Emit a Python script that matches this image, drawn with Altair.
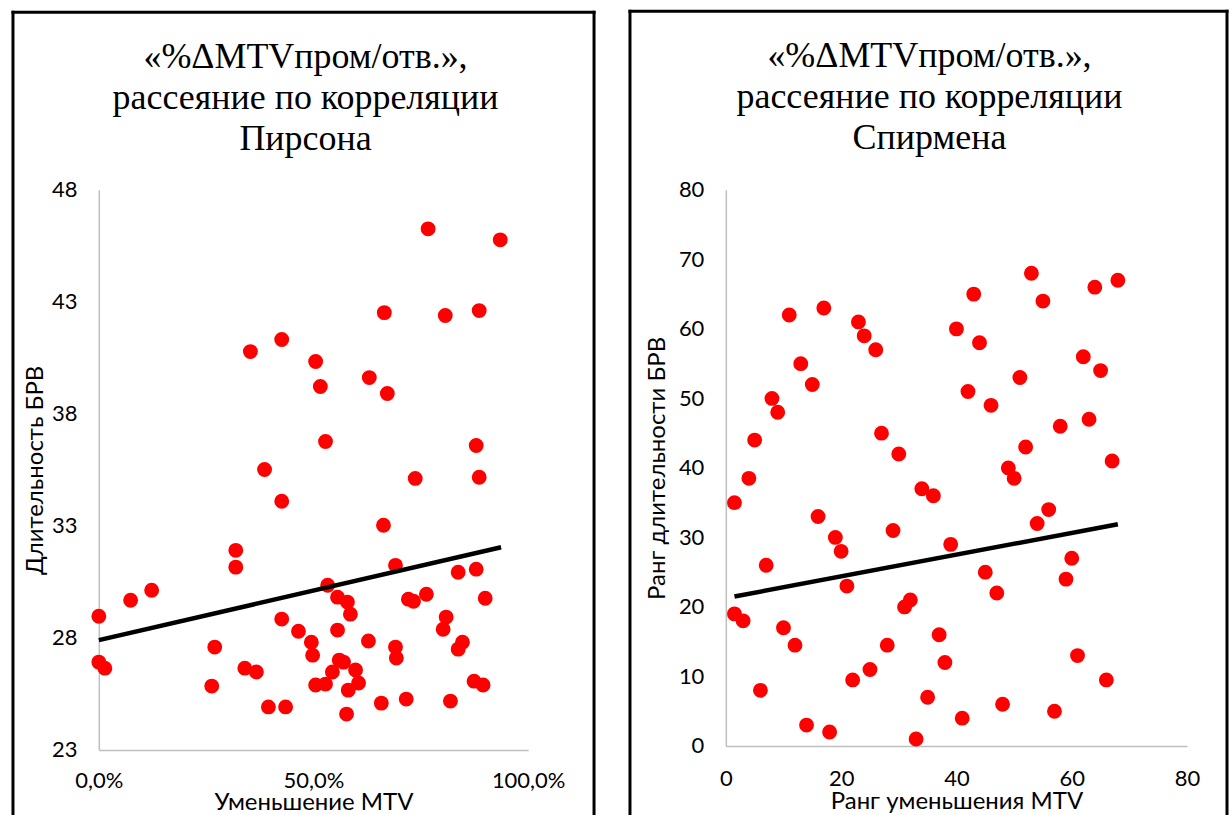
import altair as alt
import pandas as pd

# ---------------- data ----------------
pearson_x = [0.000, 0.000, 0.014, 0.074, 0.123, 0.263, 0.270, 0.319, 0.319, 0.340,
             0.367, 0.353, 0.386, 0.395, 0.435, 0.426, 0.426, 0.426, 0.465, 0.495,
             0.498, 0.505, 0.505, 0.516, 0.528, 0.528, 0.533, 0.544, 0.556, 0.556,
             0.560, 0.570, 0.579, 0.581, 0.586, 0.577, 0.598, 0.605, 0.628, 0.630,
             0.658, 0.663, 0.665, 0.672, 0.691, 0.693, 0.691, 0.716, 0.721, 0.733,
             0.737, 0.763, 0.767, 0.802, 0.809, 0.807, 0.819, 0.837, 0.837, 0.847,
             0.874, 0.879, 0.879, 0.886, 0.886, 0.895, 0.900, 0.935]
pearson_y = [28.97, 26.92, 26.65, 29.68, 30.13, 25.85, 27.59, 31.91, 31.16, 26.65,
             26.48, 40.78, 35.52, 24.92, 24.92, 34.10, 41.32, 28.84, 28.30, 27.81,
             27.23, 25.90, 40.34, 39.22, 25.94, 36.77, 30.35, 26.48, 28.35, 29.82,
             27.01, 26.92, 29.60, 25.67, 29.06, 24.60, 26.57, 25.99, 27.86, 39.62,
             25.09, 33.03, 42.52, 38.91, 27.59, 27.10, 31.24, 25.27, 29.73, 29.64,
             35.12, 29.95, 46.26, 28.39, 28.93, 42.39, 25.18, 30.93, 27.50, 27.81,
             26.07, 31.07, 36.59, 35.17, 42.61, 25.90, 29.77, 45.77]
pearson_trend_x = [0.0, 0.937]
pearson_trend_y = [27.90, 32.05]

spearman_x = [1.5, 4, 5, 8, 9, 11, 13, 15, 17, 23,
              24, 26, 27, 30, 34, 36, 53, 43, 55, 64,
              68, 40, 44, 62, 65, 51, 42, 46, 58, 63,
              52, 67, 49, 50, 56, 16, 19, 20, 29, 7,
              21, 1.5, 3, 10, 12, 28, 31, 32, 37, 38,
              25, 22, 6, 35, 14, 18, 33, 54, 39, 60,
              59, 45, 47, 61, 66, 48, 41, 57]
spearman_y = [35, 38.5, 44, 50, 48, 62, 55, 52, 63, 61,
              59, 57, 45, 42, 37, 36, 68, 65, 64, 66,
              67, 60, 58, 56, 54, 53, 51, 49, 46, 47,
              43, 41, 40, 38.5, 34, 33, 30, 28, 31, 26,
              23, 19, 18, 17, 14.5, 14.5, 20, 21, 16, 12,
              11, 9.5, 8, 7, 3, 2, 1, 32, 29, 27,
              24, 25, 22, 13, 9.5, 6, 4, 5]
spearman_trend_x = [1.5, 68]
spearman_trend_y = [21.5, 31.9]

title_left = ["«%ΔMTVпром/отв.»,", "рассеяние по корреляции", "Пирсона"]
title_right = ["«%ΔMTVпром/отв.»,", "рассеяние по корреляции", "Спирмена"]

left_x_ticks = [0, 0.5, 1]
left_y_ticks = [23, 28, 33, 38, 43, 48]
right_x_ticks = [0, 20, 40, 60, 80]
right_y_ticks = [0, 10, 20, 30, 40, 50, 60, 70, 80]

# ---------------- helpers ----------------
RED = "#ff0000"
SANS = "Lato"


def border(x0, x1, y0, y1):
    d = alt.Data(values=[{"k": 1}])
    base = alt.Chart(d).mark_rule(color="black", strokeWidth=3, strokeCap="square")
    l = base.encode(x=alt.value(x0), y=alt.value(y0), y2=alt.value(y1))
    r = base.encode(x=alt.value(x1), y=alt.value(y0), y2=alt.value(y1))
    t = base.encode(x=alt.value(x0), x2=alt.value(x1), y=alt.value(y0))
    return [l, r, t]


def panel(xs, ys, tx, ty, xdom, ydom, xticks, yticks, xtitle, ytitle,
          xlabel_expr, w, h, title, dx, toff, bx0, bx1, by0, by1, ytitle_x,
          xtitle_y, xlabel_pad):
    df = pd.DataFrame({"x": xs, "y": ys})
    tdf = pd.DataFrame({"x": tx, "y": ty})
    xargs = dict(values=xticks, title=xtitle, labelFlush=False,
                 labelOverlap=False, labelBaseline="alphabetic",
                 labelPadding=xlabel_pad, titleY=xtitle_y,
                 titleBaseline="alphabetic")
    if xlabel_expr:
        xargs["labelExpr"] = xlabel_expr
    xaxis = alt.Axis(**xargs)
    yaxis = alt.Axis(values=yticks, title=ytitle, labelFlush=False,
                     labelOverlap=False, labelPadding=22, titleX=ytitle_x,
                     titleBaseline="middle")
    xs_ = alt.Scale(domain=xdom, nice=False, zero=False)
    ys_ = alt.Scale(domain=ydom, nice=False, zero=False)
    pts = alt.Chart(df).mark_circle(size=222, color=RED, opacity=1).encode(
        x=alt.X("x:Q", scale=xs_, axis=xaxis),
        y=alt.Y("y:Q", scale=ys_, axis=yaxis),
    )
    line = alt.Chart(tdf).mark_line(color="black", strokeWidth=4.5).encode(
        x="x:Q", y="y:Q"
    )
    layers = [pts, line] + border(bx0, bx1, by0, by1)
    return alt.layer(*layers).properties(
        width=w, height=h,
        title=alt.TitleParams(text=title, dx=dx, offset=toff),
    )


left = panel(pearson_x, pearson_y, pearson_trend_x, pearson_trend_y,
             [0, 1], [23, 48], left_x_ticks, left_y_ticks,
             "Уменьшение MTV", "Длительность БРВ",
             "replace(format(datum.value, '.1%'), '.', ',')",
             430, 561, title_left, -8, -148, -86, 496, -178, 626, -63, 60, 38)

right = panel(spearman_x, spearman_y, spearman_trend_x, spearman_trend_y,
              [0, 80], [0, 80], right_x_ticks, right_y_ticks,
              "Ранг уменьшения MTV", "Ранг длительности БРВ",
              None,
              462, 557, title_right, -27, -148, -96, 502, -179, 625, -68, 63, 40)

chart = alt.hconcat(left, right, spacing=30).properties(
    padding={"left": 10, "top": 7.5, "right": 0, "bottom": 0}
).configure_view(stroke=None).configure_axis(
    labelFont=SANS, labelFontSize=22, labelColor="black",
    titleFont=SANS, titleFontSize=24, titleFontWeight="normal", titleColor="black",
    domainColor="#bfbfbf", domainWidth=1.5, ticks=False, tickSize=0, grid=False,
).configure_title(
    font="Liberation Serif", fontSize=36, fontWeight="normal", color="black",
    lineHeight=41, anchor="middle", frame="group",
)

chart.save("out.html", embed_options={"renderer": "svg", "actions": False})
